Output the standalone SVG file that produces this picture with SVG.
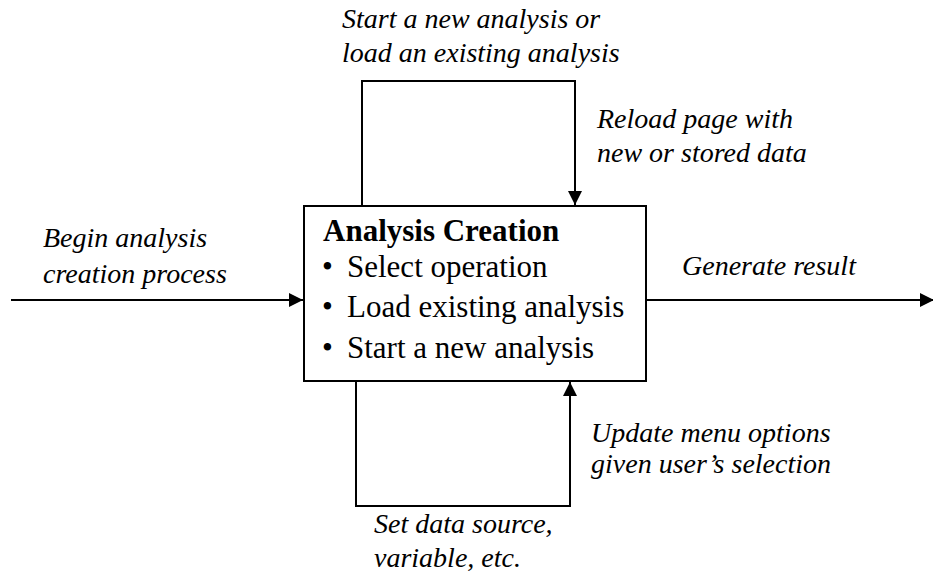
<svg xmlns="http://www.w3.org/2000/svg" width="933" height="573" viewBox="0 0 933 573">
<style>
.lbl{font-family:"Liberation Serif","Times New Roman",serif;font-style:italic;font-size:28px;fill:#000}
.box{font-family:"Liberation Serif","Times New Roman",serif;font-size:31px;fill:#000}
.ln{fill:none;stroke:#000;stroke-width:2}
</style>
<defs>
<marker id="ah" viewBox="0 0 10 10" refX="10" refY="5" markerWidth="14" markerHeight="14" markerUnits="userSpaceOnUse" orient="auto">
<path d="M0,0 L10,5 L0,10 z" fill="#000"/>
</marker>
</defs>
<g id="connectors">
<path class="ln" d="M11,300 H303" marker-end="url(#ah)"/>
<path class="ln" d="M646,300 H934" marker-end="url(#ah)"/>
<path class="ln" d="M362,205 V81 H575 V205" marker-end="url(#ah)"/>
<path class="ln" d="M356,382 V506 H570 V382" marker-end="url(#ah)"/>
</g>
<g id="analysis-creation">
<rect x="304" y="206" width="342" height="175" fill="#fff" stroke="#000" stroke-width="2"/>
<text class="box" x="323" y="241" font-weight="bold">Analysis Creation</text>
<text class="box" x="322" y="277">•</text>
<text class="box" x="347" y="277">Select operation</text>
<text class="box" x="322" y="317">•</text>
<text class="box" x="347" y="317">Load existing analysis</text>
<text class="box" x="322" y="358">•</text>
<text class="box" x="347" y="358">Start a new analysis</text>
</g>
<g id="labels">
<text class="lbl" x="342" y="28">Start a new analysis or</text>
<text class="lbl" x="342" y="62">load an existing analysis</text>
<text class="lbl" x="597" y="128">Reload page with</text>
<text class="lbl" x="597" y="162">new or stored data</text>
<text class="lbl" x="43" y="247">Begin analysis</text>
<text class="lbl" x="43" y="283">creation process</text>
<text class="lbl" x="682" y="275">Generate result</text>
<text class="lbl" x="591" y="442">Update menu options</text>
<text class="lbl" x="591" y="473">given user’s selection</text>
<text class="lbl" x="374" y="533">Set data source,</text>
<text class="lbl" x="374" y="567">variable, etc.</text>
</g>
</svg>
